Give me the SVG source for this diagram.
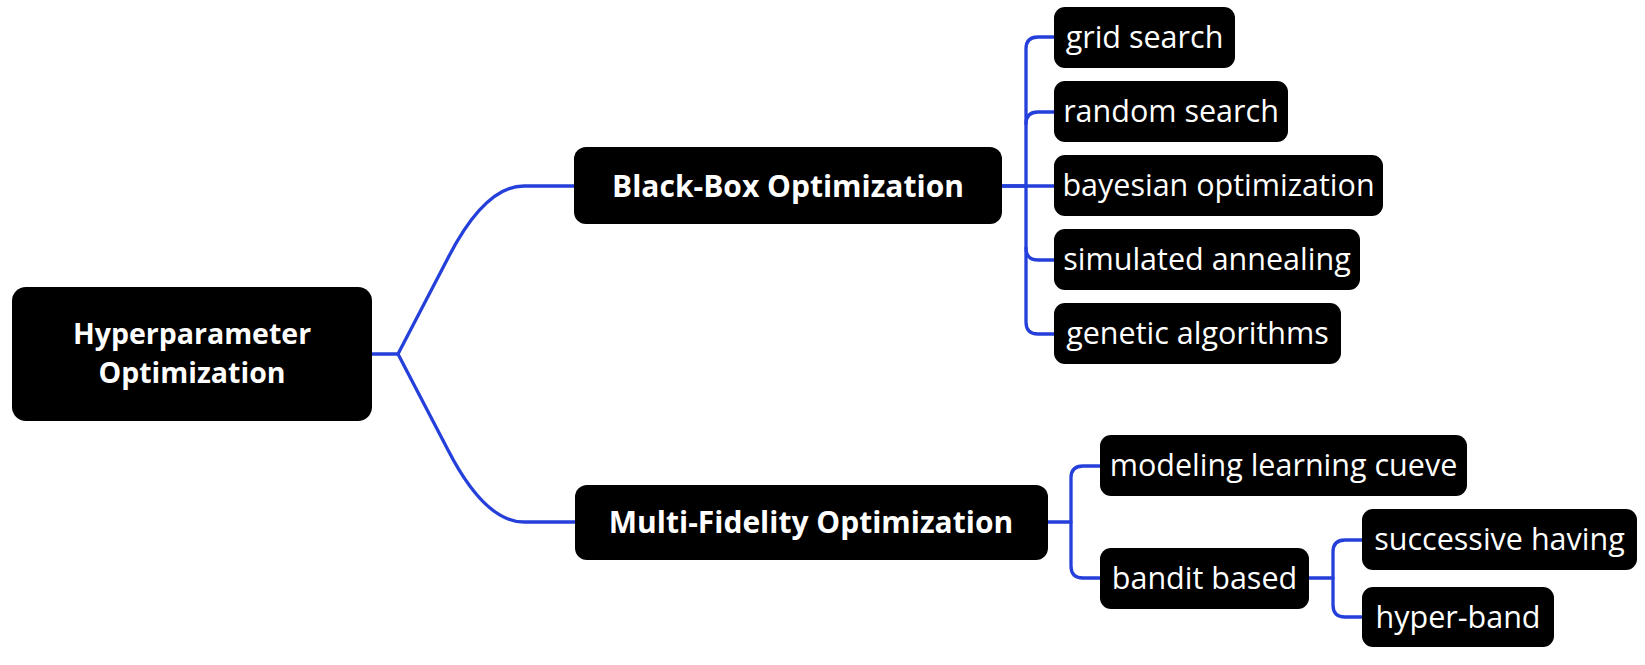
<svg xmlns="http://www.w3.org/2000/svg" width="1645" height="665" viewBox="0 0 1645 665">
<style>
.box{fill:#000}
.t{fill:#fff;font-family:"Open Sans","Noto Sans","Liberation Sans",sans-serif;font-size:30.5px;text-anchor:middle}
.b{font-weight:700;font-size:30px}
.r{font-size:28.5px}
.c{fill:none;stroke:#2540da;stroke-width:3.3;stroke-linejoin:round;stroke-linecap:round}
</style>
<rect width="1645" height="665" fill="#fff"/>
<g id="connectors">
<path class="c" d="M372,354 H398 L448,258 Q485,186 524,186 H574"/>
<path class="c" d="M398,354 L448,450 Q485,522 524,522 H575"/>
<path class="c" d="M1002,186 H1054"/>
<path class="c" d="M1002,186 H1026 V49 Q1026,37 1038,37 H1054"/>
<path class="c" d="M1026,124 Q1026,112 1038,112 H1054"/>
<path class="c" d="M1026,186 V248 Q1026,260 1038,260 H1054"/>
<path class="c" d="M1026,248 V322 Q1026,334 1038,334 H1054"/>
<path class="c" d="M1048,522 H1071 V478 Q1071,466 1083,466 H1100"/>
<path class="c" d="M1071,522 V566 Q1071,578 1083,578 H1100"/>
<path class="c" d="M1309,578 H1333 V552 Q1333,540 1345,540 H1362"/>
<path class="c" d="M1333,578 V605 Q1333,617 1345,617 H1362"/>
</g>
<g id="root">
<rect class="box" x="12" y="287" width="360" height="134" rx="14"/>
<text class="t b r" x="192" y="344">Hyperparameter</text>
<text class="t b r" x="192" y="383">Optimization</text>
</g>
<g id="blackbox">
<rect class="box" x="574" y="147" width="428" height="77" rx="12"/>
<text class="t b" x="788" y="197">Black-Box Optimization</text>
</g>
<g id="multifidelity">
<rect class="box" x="575" y="485" width="473" height="75" rx="12"/>
<text class="t b" x="811" y="533">Multi-Fidelity Optimization</text>
</g>
<g id="grid">
<rect class="box" x="1054" y="7" width="181" height="61" rx="11"/>
<text class="t" x="1144.5" y="48">grid search</text>
</g>
<g id="random">
<rect class="box" x="1054" y="81" width="234" height="61" rx="11"/>
<text class="t" x="1171" y="122">random search</text>
</g>
<g id="bayesian">
<rect class="box" x="1054" y="155" width="329" height="61" rx="11"/>
<text class="t" x="1218.5" y="196">bayesian optimization</text>
</g>
<g id="annealing">
<rect class="box" x="1054" y="229" width="306" height="61" rx="11"/>
<text class="t" x="1207" y="270">simulated annealing</text>
</g>
<g id="genetic">
<rect class="box" x="1054" y="303" width="287" height="61" rx="11"/>
<text class="t" x="1197.5" y="344">genetic algorithms</text>
</g>
<g id="modeling">
<rect class="box" x="1100" y="435" width="367" height="61" rx="11"/>
<text class="t" x="1283.5" y="476">modeling learning cueve</text>
</g>
<g id="bandit">
<rect class="box" x="1100" y="548" width="209" height="61" rx="11"/>
<text class="t" x="1204.5" y="589">bandit based</text>
</g>
<g id="successive">
<rect class="box" x="1362" y="509" width="275" height="61" rx="11"/>
<text class="t" x="1499.5" y="550">successive having</text>
</g>
<g id="hyperband">
<rect class="box" x="1362" y="587" width="192" height="60" rx="11"/>
<text class="t" x="1458" y="628">hyper-band</text>
</g>
</svg>
